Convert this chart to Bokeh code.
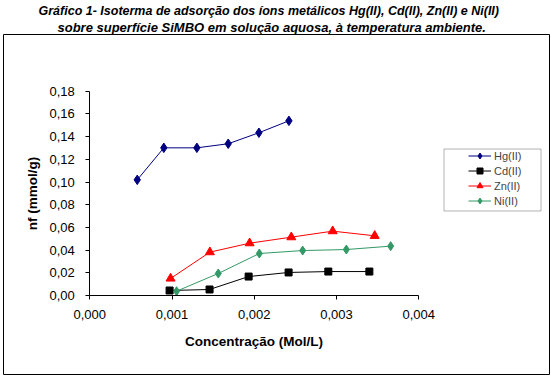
from bokeh.plotting import figure
from bokeh.models import (Title, BoxAnnotation, Legend, LegendItem, Range1d,
                          FixedTicker, CustomJSTickFormatter, LinearAxis)
from bokeh.embed import file_html
from bokeh.resources import INLINE

# ---- data ----
hg_x = [0.000577, 0.000900, 0.001302, 0.001683, 0.002056, 0.002421]
hg_y = [0.1019, 0.1301, 0.1301, 0.1337, 0.1434, 0.1539]

cd_x = [0.000970, 0.001456, 0.001931, 0.002417, 0.002900, 0.003399]
cd_y = [0.0044, 0.0053, 0.0167, 0.0203, 0.0211, 0.0211]

zn_x = [0.000982, 0.001460, 0.001943, 0.002450, 0.002953, 0.003464]
zn_y = [0.0150, 0.0382, 0.0461, 0.0514, 0.0567, 0.0526]

ni_x = [0.001055, 0.001562, 0.002061, 0.002588, 0.003119, 0.003658]
ni_y = [0.0038, 0.0194, 0.0370, 0.0396, 0.0405, 0.0435]

x_ticks = [0.0, 0.001, 0.002, 0.003, 0.004]
y_ticks = [0.0, 0.02, 0.04, 0.06, 0.08, 0.10, 0.12, 0.14, 0.16, 0.18]
x_bounds = (0.0, 0.004)
y_bounds = (0.0, 0.18)

title_1 = "Gráfico 1- Isoterma de adsorção dos íons metálicos Hg(II), Cd(II), Zn(II) e Ni(II)"
title_2 = "sobre superfície SiMBO em solução aquosa, à temperatura ambiente."
x_label = "Concentração (Mol/L)"
y_label = "nf (mmol/g)"

FONT = "Liberation Sans"

# The frame is the whole chart-area box; the plot area sits inside it.
p = figure(width=551, height=375, output_backend="svg", toolbar_location=None,
           x_range=Range1d(-0.0010492, 0.005589), y_range=Range1d(-0.0696, 0.22996),
           x_axis_location=None, y_axis_location=None,
           min_border_left=3, min_border_right=2, min_border_bottom=1,
           min_border_top=34)
p.background_fill_color = "white"
p.border_fill_color = "white"
p.outline_line_color = "black"
p.outline_line_width = 1
p.xgrid.grid_line_color = None
p.ygrid.grid_line_color = None

# titles
t1 = Title(text=title_1, align="left", text_font=FONT, text_font_size="12.5px",
           text_font_style="bold italic", text_color="black", standoff=0, offset=35)
t2 = Title(text=title_2, align="left", text_font=FONT, text_font_size="13px",
           text_font_style="bold italic", text_color="black", standoff=0, offset=54)
p.add_layout(t2, "above")
p.add_layout(t1, "above")

# axes, fixed at zero inside the box
xaxis = LinearAxis(fixed_location=0, bounds=x_bounds, ticker=FixedTicker(ticks=x_ticks),
                   formatter=CustomJSTickFormatter(code="return tick.toFixed(3).replace('.', ',');"),
                   axis_label=x_label)
yaxis = LinearAxis(fixed_location=0, bounds=y_bounds, ticker=FixedTicker(ticks=y_ticks),
                   formatter=CustomJSTickFormatter(code="return tick.toFixed(2).replace('.', ',');"),
                   axis_label=y_label)
p.add_layout(xaxis, "below")
p.add_layout(yaxis, "left")
for ax in (xaxis, yaxis):
    ax.axis_line_color = "black"
    ax.major_tick_line_color = "black"
    ax.minor_tick_line_color = None
    ax.major_tick_in = 0
    ax.major_tick_out = 4
    ax.major_label_text_font = FONT
    ax.major_label_text_font_size = "13px"
    ax.major_label_text_color = "black"
    ax.axis_label_text_font = FONT
    ax.axis_label_text_font_size = "13.5px"
    ax.axis_label_text_font_style = "bold"
    ax.axis_label_text_color = "black"
xaxis.major_label_standoff = 10
yaxis.major_label_standoff = 11
xaxis.axis_label_standoff = 12
yaxis.axis_label_standoff = 6

# series: name, x, y, colour, marker, size
series = [
    ("Hg(II)", hg_x, hg_y, "#000080", "diamond", 9.5),
    ("Cd(II)", cd_x, cd_y, "#000000", "square", 7),
    ("Zn(II)", zn_x, zn_y, "#FF0000", "triangle", 9),
    ("Ni(II)", ni_x, ni_y, "#339966", "diamond", 9),
]
items = []
for name, xs, ys, col, mk, sz in series:
    ln = p.line(xs, ys, line_color=col, line_width=1)
    sc = p.scatter(xs, ys, marker=mk, size=sz, fill_color=col, line_color=col)
    items.append(LegendItem(label=name, renderers=[ln, sc]))

legend = Legend(items=items, location=(465, 166), padding=0, margin=0, spacing=0,
                glyph_width=23, glyph_height=15, label_height=15, label_standoff=3,
                label_text_font=FONT, label_text_font_size="11px",
                border_line_alpha=0, background_fill_alpha=0)
p.add_layout(legend, "center")

# legend box
p.add_layout(BoxAnnotation(left=443.5, right=540.5, top=148.5, bottom=210.5,
                           left_units="canvas", right_units="canvas",
                           top_units="canvas", bottom_units="canvas",
                           fill_alpha=0, line_color="black", line_width=1))

open("out.html", "w").write(file_html(p, INLINE))
